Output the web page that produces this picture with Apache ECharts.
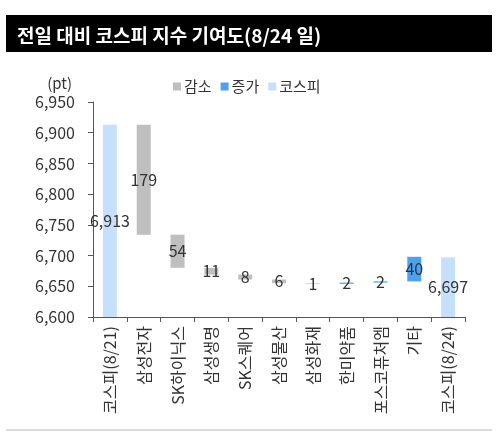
<!DOCTYPE html>
<html>
<head>
<meta charset="utf-8">
<script src="https://cdn.jsdelivr.net/npm/echarts@6/dist/echarts.min.js"></script>
<style>
  html, body { margin: 0; padding: 0; background: #fff; }
  #chart { width: 500px; height: 446px; }
</style>
</head>
<body>
<div id="chart"></div>
<script>
const categories = ['코스피(8/21)', '삼성전자', 'SK하이닉스', '삼성생명', 'SK스퀘어', '삼성물산', '삼성화재', '한미약품', '포스코퓨처엠', '기타', '코스피(8/24)'];
const kospiStart = 6913;
const kospiEnd = 6697;
const decreases = [null, 179, 54, 11, 8, 6, 1, null, null, null, null];
const increases = [null, null, null, null, null, null, null, 2, 2, 40, null];
const yTicks = [6600, 6650, 6700, 6750, 6800, 6850, 6900, 6950];

const FONT = '"Noto Sans CJK KR", "Noto Sans", sans-serif';

// transparent base under each floating bar
const base = [];
const kospi = [];
let level = kospiStart;
categories.forEach((c, i) => {
    if (i === 0) { base.push(0); kospi.push(kospiStart); return; }
    if (i === categories.length - 1) { base.push(0); kospi.push(kospiEnd); return; }
    kospi.push(null);
    if (decreases[i] != null) {
        level -= decreases[i];
        base.push(level);
    } else {
        base.push(level);
        level += increases[i];
    }
});

const fmt = v => Number(v).toLocaleString('en-US');

const labelStyle = {
    show: true,
    position: 'inside',
    color: '#333',
    fontSize: 16,
    fontFamily: FONT,
    formatter: p => fmt(p.value)
};

const chart = echarts.init(document.getElementById('chart'), null, { renderer: 'canvas' });

chart.setOption({
    backgroundColor: '#fff',
    animation: false,
    textStyle: { fontFamily: FONT },
    graphic: [
        { type: 'rect', shape: { x: 6, y: 15, width: 486, height: 37 }, style: { fill: '#000' } },
        { type: 'text', x: 17, y: 36, style: { text: '전일 대비 코스피 지수 기여도(8/24 일)', fill: '#fff', font: 'bold 19px ' + FONT, textVerticalAlign: 'middle' } },
        { type: 'line', shape: { x1: 6, y1: 430, x2: 492, y2: 430 }, style: { stroke: '#d0d0d0', lineWidth: 1.5 } }
    ],
    legend: {
        left: 168,
        top: 74,
        itemWidth: 8,
        itemHeight: 8,
        itemGap: 9,
        textStyle: { fontSize: 15, color: '#333', fontFamily: FONT, padding: [0, 0, 0, -2] },
        data: [
            { name: '감소', icon: 'rect' },
            { name: '증가', icon: 'rect' },
            { name: '코스피', icon: 'rect' }
        ]
    },
    grid: { left: 93, right: 35, top: 102, bottom: 129 },
    xAxis: {
        type: 'category',
        data: categories,
        axisLine: { lineStyle: { color: '#555' } },
        axisTick: { show: true, alignWithLabel: false, length: 5, lineStyle: { color: '#555' } },
        axisLabel: { rotate: 90, fontSize: 16, color: '#333', fontFamily: FONT, margin: 9 }
    },
    yAxis: {
        type: 'value',
        min: yTicks[0],
        max: yTicks[yTicks.length - 1],
        interval: 50,
        name: '(pt)',
        nameLocation: 'end',
        nameGap: 11,
        nameTextStyle: { fontSize: 15, color: '#333', align: 'right', padding: [0, 21, 0, 0] },
        axisLine: { show: true, lineStyle: { color: '#555' } },
        axisTick: { show: true, length: 5, lineStyle: { color: '#555' } },
        splitLine: { show: false },
        axisLabel: { fontSize: 16, color: '#333', margin: 18, formatter: v => fmt(v) }
    },
    series: [
        {
            name: 'base', type: 'bar', stack: 'w', barWidth: 14, silent: true,
            itemStyle: { color: 'transparent' },
            data: base
        },
        {
            name: '감소', type: 'bar', stack: 'w', barWidth: 14,
            itemStyle: { color: '#bfbfbf' },
            label: labelStyle,
            data: decreases
        },
        {
            name: '증가', type: 'bar', stack: 'w', barWidth: 14,
            itemStyle: { color: '#4aa3f2' },
            label: labelStyle,
            data: increases
        },
        {
            name: '코스피', type: 'bar', barWidth: 14, barGap: '-100%',
            itemStyle: { color: '#c6e0fb' },
            label: labelStyle,
            data: kospi
        }
    ]
});
</script>
</body>
</html>
